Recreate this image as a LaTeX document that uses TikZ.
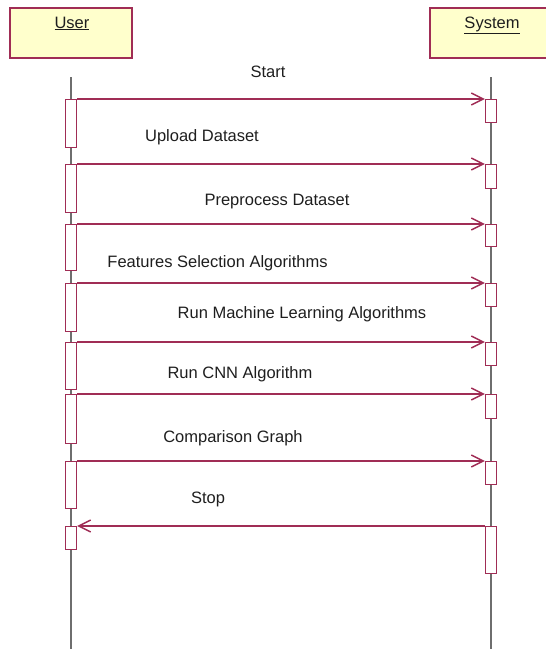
\documentclass[tikz,border=0pt]{standalone}
\usepackage{fontspec}
\setmainfont{Liberation Sans}
\usetikzlibrary{arrows.meta}
\definecolor{umlred}{RGB}{160,45,85}
\definecolor{umlfill}{RGB}{255,255,204}
\definecolor{lifegray}{RGB}{110,110,110}
\definecolor{txtgray}{RGB}{30,30,30}
\tikzset{
  header/.style={draw=umlred, line width=1.3pt, fill=umlfill, minimum width=122pt, minimum height=50pt, inner sep=0pt},
  htext/.style={text=txtgray, font=\fontsize{16.5}{18}\selectfont, anchor=base},
  lifeline/.style={draw=lifegray, line width=1.2pt},
  actbox/.style={draw=umlred, line width=1.3pt, fill=white, minimum width=11pt, inner sep=0pt, anchor=north},
  msg/.style={draw=umlred, line width=1.4pt, -{Straight Barb[length=12pt,width=12pt,line width=1.4pt]}},
  lbl/.style={text=txtgray, font=\fontsize{16.5}{18}\selectfont, anchor=base, inner sep=0pt}
}
\begin{document}
\begin{tikzpicture}[x=1pt,y=-1pt]
\useasboundingbox (0,0) rectangle (546,649);
\clip (0,0) rectangle (546,649);
% headers
\node[header] (user) at (71,33) {};
\node[header] (system) at (491,33) {};
\node[htext] (usert) at (72,28) {\underline{User}};
\node[htext] (systemt) at (492,28) {\underline{System}};
% lifelines
\coordinate (ut) at (71,77);
\coordinate (ub) at (71,649);
\coordinate (st) at (491,77);
\coordinate (sb) at (491,649);
\draw[lifeline] (ut) -- (ub);
\draw[lifeline] (st) -- (sb);
% activation boxes: user
\node[actbox, minimum height=48pt] (ua1) at (71,99) {};
\node[actbox, minimum height=48pt] (ua2) at (71,164) {};
\node[actbox, minimum height=46pt] (ua3) at (71,224) {};
\node[actbox, minimum height=48pt] (ua4) at (71,283) {};
\node[actbox, minimum height=47pt] (ua5) at (71,342) {};
\node[actbox, minimum height=49pt] (ua6) at (71,394) {};
\node[actbox, minimum height=47pt] (ua7) at (71,461) {};
\node[actbox, minimum height=23pt] (ua8) at (71,526) {};
% activation boxes: system
\node[actbox, minimum height=23pt] (sa1) at (491,99) {};
\node[actbox, minimum height=24pt] (sa2) at (491,164) {};
\node[actbox, minimum height=22pt] (sa3) at (491,224) {};
\node[actbox, minimum height=23pt] (sa4) at (491,283) {};
\node[actbox, minimum height=23pt] (sa5) at (491,342) {};
\node[actbox, minimum height=24pt] (sa6) at (491,394) {};
\node[actbox, minimum height=23pt] (sa7) at (491,461) {};
\node[actbox, minimum height=47pt] (sa8) at (491,526) {};
% messages
\draw[msg] (ua1.north east) -- (sa1.north west);
\draw[msg] (ua2.north east) -- (sa2.north west);
\draw[msg] (ua3.north east) -- (sa3.north west);
\draw[msg] (ua4.north east) -- (sa4.north west);
\draw[msg] (ua5.north east) -- (sa5.north west);
\draw[msg] (ua6.north east) -- (sa6.north west);
\draw[msg] (ua7.north east) -- (sa7.north west);
\draw[msg] (sa8.north west) -- (ua8.north east);
% labels
\node[lbl] (l1) at (268,77.5) {Start};
\node[lbl] (l2) at (202,141) {Upload Dataset};
\node[lbl] (l3) at (277,205.5) {Preprocess Dataset};
\node[lbl] (l4) at (217.5,267) {Features Selection Algorithms};
\node[lbl] (l5) at (302,318) {Run Machine Learning Algorithms};
\node[lbl] (l6) at (240,378.5) {Run CNN Algorithm};
\node[lbl] (l7) at (233,442.5) {Comparison Graph};
\node[lbl] (l8) at (208,503) {Stop};
\end{tikzpicture}
\end{document}
